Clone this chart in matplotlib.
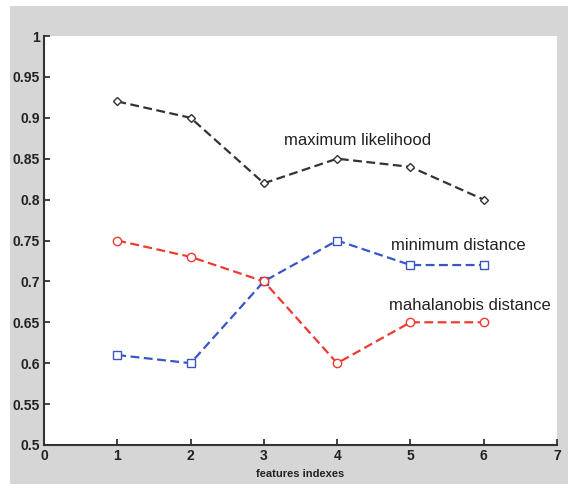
import matplotlib
matplotlib.use("Agg")
import matplotlib.pyplot as plt
from matplotlib.patches import Rectangle

features = [1, 2, 3, 4, 5, 6]
max_likelihood = [0.92, 0.90, 0.82, 0.85, 0.84, 0.80]
minimum_distance = [0.61, 0.60, 0.70, 0.75, 0.72, 0.72]
mahalanobis = [0.75, 0.73, 0.70, 0.60, 0.65, 0.65]
yticks = [0.5, 0.55, 0.6, 0.65, 0.7, 0.75, 0.8, 0.85, 0.9, 0.95, 1.0]
ytick_labels = ["0.5", "0.55", "0.6", "0.65", "0.7", "0.75", "0.8", "0.85", "0.9", "0.95", "1"]
xticks = [0, 1, 2, 3, 4, 5, 6, 7]

plt.rcParams['font.family'] = ['Liberation Sans', 'DejaVu Sans']

fig = plt.figure(figsize=(5.68, 4.84), dpi=100, facecolor='white')
fig.patches.append(Rectangle((10/568, 0), 1, 1 - 6/484, transform=fig.transFigure,
                             facecolor='#d6d6d6', edgecolor='none', zorder=-10))
ax = fig.add_axes([44/568, 1 - 445/484, (557-44)/568, (445-36)/484])
ax.set_facecolor('white')

ax.plot(features, max_likelihood, linestyle='--', color='#333333', lw=1.6,
        marker='D', markersize=4, markerfacecolor='white', markeredgecolor='#333333', dashes=(4, 2))
ax.plot(features, minimum_distance, linestyle='--', color='#3a55c8', lw=1.6,
        marker='s', markersize=6, markerfacecolor='white', markeredgecolor='#3a55c8', dashes=(4, 2))
ax.plot(features, mahalanobis, linestyle='--', color='#ee3b30', lw=1.6,
        marker='o', markersize=6, markerfacecolor='white', markeredgecolor='#ee3b30', dashes=(4, 2))

ax.text(3.27, 0.872, "maximum likelihood", fontsize=12, color='#222222', va='center', ha='left')
ax.text(4.74, 0.744, "minimum distance", fontsize=12, color='#222222', va='center', ha='left')
ax.text(4.71, 0.670, "mahalanobis distance", fontsize=12, color='#222222', va='center', ha='left')

ax.set_xlim(0, 7)
ax.set_ylim(0.5, 1.0)
ax.set_xticks(xticks)
ax.set_yticks(yticks)
ax.set_yticklabels(ytick_labels)
ax.tick_params(direction='in', length=4, width=1.2, labelsize=10, colors='#222222', pad=3)
for lab in ax.get_xticklabels() + ax.get_yticklabels():
    lab.set_fontweight('bold')
for s in ['top', 'right']:
    ax.spines[s].set_visible(False)
for s in ['left', 'bottom']:
    ax.spines[s].set_linewidth(1.5)
    ax.spines[s].set_color('#333333')
ax.set_xlabel("features indexes", fontsize=8, fontweight='bold', color='#222222', labelpad=4)

fig.savefig("out.png", dpi=100, facecolor=fig.get_facecolor())
